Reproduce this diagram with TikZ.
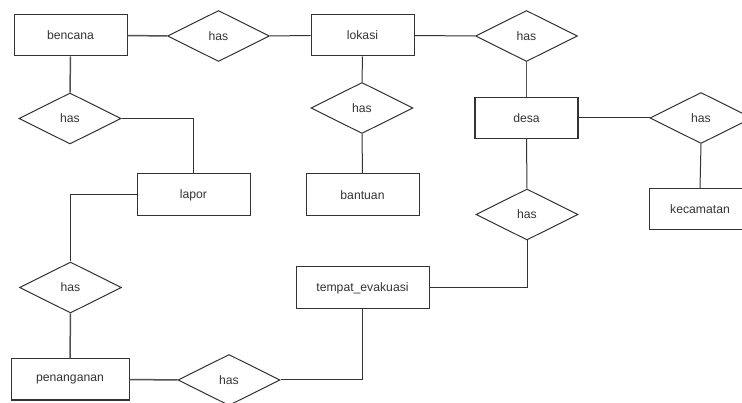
\documentclass[tikz,border=0pt]{standalone}
\usepackage{fontspec}
\setmainfont{Liberation Sans}
\usetikzlibrary{shapes.geometric}
\definecolor{ink}{HTML}{333333}
\tikzset{
  ent/.style={draw=ink, line width=1pt, rectangle, inner sep=0pt, minimum height=41pt, text=ink, font=\fontsize{12.2}{14}\selectfont},
  rel/.style={draw=ink, line width=1pt, diamond, aspect=2, inner sep=0pt, minimum width=102pt, minimum height=51pt, text=ink, font=\fontsize{12.2}{14}\selectfont},
  link/.style={draw=ink, line width=1pt},
  thick link/.style={draw=ink!85, line width=1.5pt}
}
\begin{document}
\begin{tikzpicture}[x=1pt,y=-1pt]
\clip (0,0) rectangle (742,403);
\useasboundingbox (0,0) rectangle (742,403);
% entities
\node[ent, minimum width=113pt] (bencana) at (70.5,35.5) {bencana};
\node[ent, minimum width=103pt] (lokasi) at (362.5,35.5) {lokasi};
\node[ent, minimum width=103pt, line width=1.3pt] (desa) at (526.5,118) {desa};
\node[ent, minimum width=113pt, minimum height=42pt] (lapor) at (193.5,195) {lapor};
\node[ent, minimum width=113pt, minimum height=42pt] (bantuan) at (362.5,195) {bantuan};
\node[ent, minimum width=102pt] (kecamatan) at (700,209.5) {kecamatan};
\node[ent, minimum width=133pt, minimum height=42pt] (tempat) at (362.5,288) {tempat\_evakuasi};
\node[ent, minimum width=118pt] (penanganan) at (70,379.5) {penanganan};
% relationships
\node[rel] (r1) at (218.5,36) {has};
\node[rel] (r2) at (70,118.5) {has};
\node[rel] (r3) at (526.5,36) {has};
\node[rel] (r4) at (362,108) {has};
\node[rel] (r5) at (701,118) {has};
\node[rel] (r6) at (527,214.5) {has};
\node[rel] (r7) at (229,380) {has};
\node[rel] (r8) at (70.5,287.5) {has};
% connectors
\draw[thick link] (bencana.east) -- (r1.west);
\draw[link] (r1.east) -- (lokasi.west);
\draw[link] (lokasi.east) -- (r3.west);
\draw[thick link] (r3.south) -- (desa.north);
\draw[link] (lokasi.south) -- (r4.north);
\draw[link] (r4.south) -- (bantuan.north);
\draw[link] (desa.east) -- (r5.west);
\draw[link] (r5.south) -- (kecamatan.north);
\draw[link] (desa.south) -- (r6.north);
\draw[link] (r6.south) |- (tempat.east);
\draw[thick link] (bencana.south) -- (r2.north);
\draw[link] (r2.east) -| (lapor.north);
\draw[link] (lapor.west) -| (r8.north);
\draw[thick link] (r8.south) -- (penanganan.north);
\draw[thick link] (penanganan.east) -- (r7.west);
\draw[link] (r7.east) -| (tempat.south);
\end{tikzpicture}
\end{document}
